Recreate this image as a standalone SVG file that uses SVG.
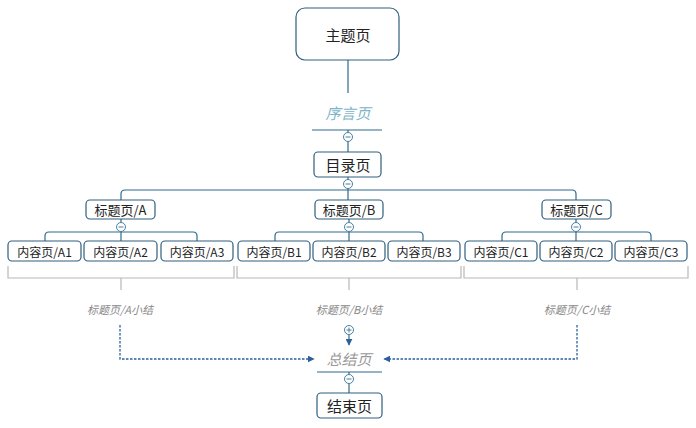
<svg xmlns="http://www.w3.org/2000/svg" width="696" height="428" viewBox="0 0 696 428">
<defs>
<style>
.box{fill:#fff;stroke:#2f5f7f;stroke-width:1.2}
.t{font-family:"Noto Sans CJK SC","Liberation Sans",sans-serif;fill:#222;text-anchor:middle;dominant-baseline:central}
.ln{fill:none;stroke:#2f6a8c;stroke-width:1.2}
.br{fill:none;stroke:#b8b8b8;stroke-width:1.2}
.dash{fill:none;stroke:#2c5f9e;stroke-width:1.3;stroke-dasharray:2.5,1.5}
.cc{fill:#fff;stroke:#4a7f9f;stroke-width:1}
.sum{font-family:"Noto Sans CJK SC","Liberation Sans",sans-serif;font-style:italic;fill:#888;text-anchor:middle;dominant-baseline:central;font-size:11px}
</style>
<marker id="ah" viewBox="0 0 10 10" refX="9" refY="5" markerWidth="7" markerHeight="7" orient="auto" markerUnits="userSpaceOnUse">
<path d="M0,0 L10,5 L0,10 z" fill="#2c5f9e"/>
</marker>
<g id="minus"><circle r="4.5" class="cc"/><line x1="-2.5" y1="0" x2="2.5" y2="0" stroke="#4a7f9f" stroke-width="1"/></g>
</defs>

<g id="connectors">
<line class="ln" x1="348" y1="60" x2="348" y2="93"/>
<line class="ln" x1="312" y1="130" x2="382" y2="130"/>
<line class="ln" x1="348" y1="130" x2="348" y2="152"/>
<line class="ln" x1="348" y1="177" x2="348" y2="190"/>
<path class="ln" d="M121,200 V194 Q121,190 125,190 H572 Q576,190 576,194 V200"/>
<line class="ln" x1="348" y1="190" x2="348" y2="200"/>
<!-- A children -->
<line class="ln" x1="121" y1="219" x2="121" y2="232"/>
<path class="ln" d="M45,241 V236 Q45,232 49,232 H193 Q197,232 197,236 V241"/>
<line class="ln" x1="121" y1="232" x2="121" y2="241"/>
<!-- B children -->
<line class="ln" x1="349" y1="219" x2="349" y2="232"/>
<path class="ln" d="M275,241 V236 Q275,232 279,232 H419 Q423,232 423,236 V241"/>
<line class="ln" x1="349" y1="232" x2="349" y2="241"/>
<!-- C children -->
<line class="ln" x1="576" y1="219" x2="576" y2="232"/>
<path class="ln" d="M502,241 V236 Q502,232 506,232 H647 Q651,232 651,236 V241"/>
<line class="ln" x1="576" y1="232" x2="576" y2="241"/>
<!-- brackets -->
<path class="br" d="M8,266 V278 H234 V266 M121,278 V290"/>
<path class="br" d="M237,266 V278 H461 V266 M349,278 V290"/>
<path class="br" d="M464,266 V278 H688 V266 M577,278 V290"/>
<!-- summary arrows -->
<path class="dash" d="M120,325 V359 H314" marker-end="url(#ah)"/>
<path class="dash" d="M577,325 V359 H384" marker-end="url(#ah)"/>
<line class="ln" x1="349" y1="334" x2="349" y2="345" stroke="#2c5f9e" marker-end="url(#ah)"/>
<line class="ln" x1="317" y1="372" x2="382" y2="372"/>
<line class="ln" x1="349" y1="372" x2="349" y2="393"/>
<!-- collapse circles -->
<use href="#minus" x="348" y="137"/>
<use href="#minus" x="348" y="184"/>
<use href="#minus" x="121" y="227"/>
<use href="#minus" x="349" y="227"/>
<use href="#minus" x="576" y="227"/>
<use href="#minus" x="349" y="379"/>
<g><circle cx="349" cy="330" r="4.5" class="cc"/><line x1="346.5" y1="330" x2="351.5" y2="330" stroke="#4a7f9f"/><line x1="349" y1="327.5" x2="349" y2="332.5" stroke="#4a7f9f"/></g>
</g>

<g id="n-main"><rect class="box" x="296" y="8" width="103" height="52" rx="9"/><text class="t" x="348" y="34" font-size="15">主题页</text></g>
<g id="n-preface"><text class="t" x="348" y="112" font-size="15" font-style="italic" fill="#7db4c8" style="fill:#7db4c8">序言页</text></g>
<g id="n-toc"><rect class="box" x="314" y="152" width="67" height="25" rx="4"/><text class="t" x="348" y="164.5" font-size="15">目录页</text></g>

<g id="n-A"><rect class="box" x="86" y="200" width="69" height="19" rx="4"/><text class="t" x="120.5" y="209.5" font-size="13">标题页/A</text></g>
<g id="n-B"><rect class="box" x="315" y="200" width="68" height="19" rx="4"/><text class="t" x="349" y="209.5" font-size="13">标题页/B</text></g>
<g id="n-C"><rect class="box" x="542" y="200" width="69" height="19" rx="4"/><text class="t" x="576.5" y="209.5" font-size="13">标题页/C</text></g>

<g id="n-A1"><rect class="box" x="8" y="241" width="73" height="20" rx="4"/><text class="t" x="44.5" y="251" font-size="12">内容页/A1</text></g>
<g id="n-A2"><rect class="box" x="84" y="241" width="73" height="20" rx="4"/><text class="t" x="120.5" y="251" font-size="12">内容页/A2</text></g>
<g id="n-A3"><rect class="box" x="161" y="241" width="72" height="20" rx="4"/><text class="t" x="197" y="251" font-size="12">内容页/A3</text></g>
<g id="n-B1"><rect class="box" x="238" y="241" width="72" height="20" rx="4"/><text class="t" x="274" y="251" font-size="12">内容页/B1</text></g>
<g id="n-B2"><rect class="box" x="313" y="241" width="72" height="20" rx="4"/><text class="t" x="349" y="251" font-size="12">内容页/B2</text></g>
<g id="n-B3"><rect class="box" x="388" y="241" width="72" height="20" rx="4"/><text class="t" x="424" y="251" font-size="12">内容页/B3</text></g>
<g id="n-C1"><rect class="box" x="465" y="241" width="72" height="20" rx="4"/><text class="t" x="501" y="251" font-size="12">内容页/C1</text></g>
<g id="n-C2"><rect class="box" x="540" y="241" width="72" height="20" rx="4"/><text class="t" x="576" y="251" font-size="12">内容页/C2</text></g>
<g id="n-C3"><rect class="box" x="615" y="241" width="72" height="20" rx="4"/><text class="t" x="651" y="251" font-size="12">内容页/C3</text></g>

<g id="n-sA"><text class="sum" x="120" y="309">标题页/A小结</text></g>
<g id="n-sB"><text class="sum" x="349" y="309">标题页/B小结</text></g>
<g id="n-sC"><text class="sum" x="577" y="309">标题页/C小结</text></g>

<g id="n-summary"><text class="t" x="349" y="358" font-size="15" font-style="italic" style="fill:#999">总结页</text></g>
<g id="n-end"><rect class="box" x="317" y="393" width="65" height="25" rx="4"/><text class="t" x="349.5" y="405.5" font-size="15">结束页</text></g>
</svg>
